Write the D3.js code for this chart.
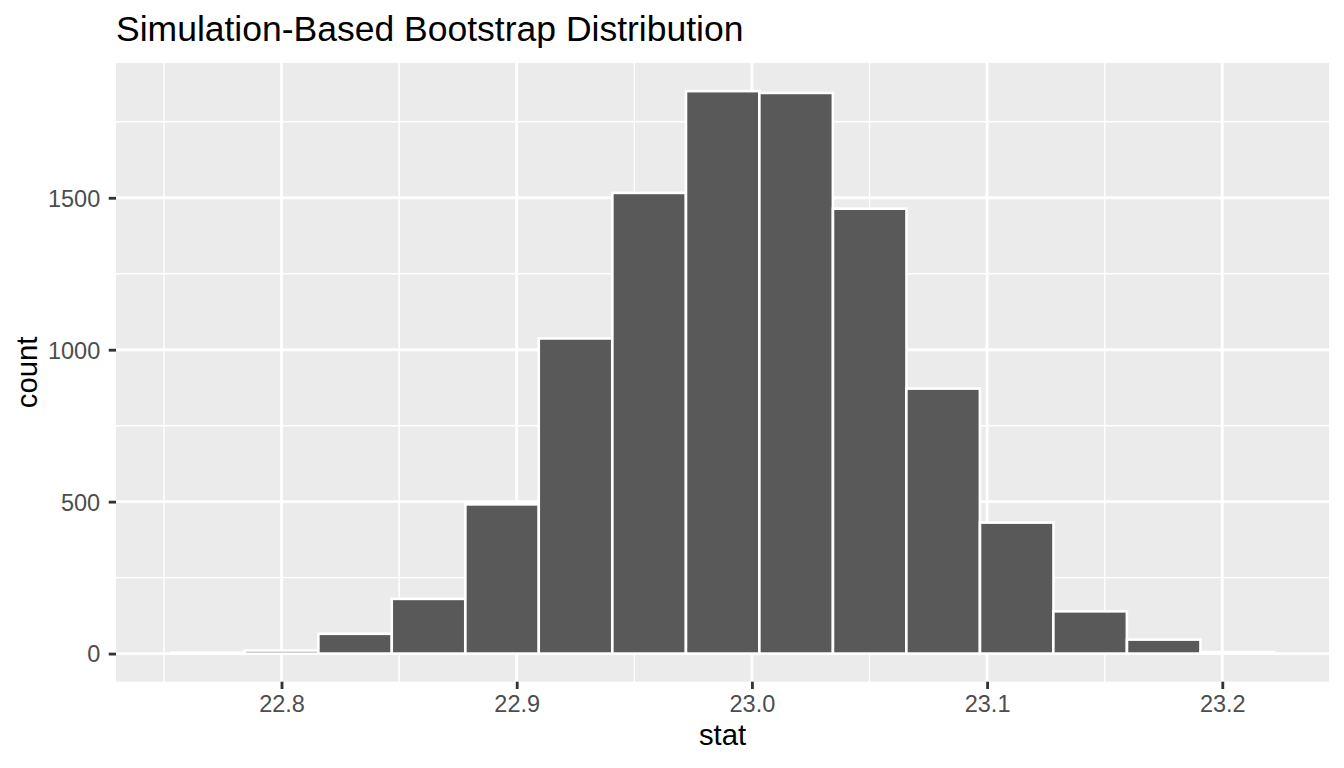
<!DOCTYPE html>
<html>
<head>
<meta charset="utf-8">
<script src="https://cdn.jsdelivr.net/npm/d3@7"></script>
<style>
  html, body { margin: 0; padding: 0; background: #ffffff; }
  svg { display: block; }
  text { font-family: "Liberation Sans", Arial, Helvetica, sans-serif; }
</style>
</head>
<body>
<svg id="chart" width="1344" height="768"></svg>
<script>
// ---- data ----
const titleText = "Simulation-Based Bootstrap Distribution";
const xLabel = "stat";
const yLabel = "count";
const binCenters = [22.7687, 22.8000, 22.8313, 22.8625, 22.8938, 22.9250, 22.9563, 22.9876,
                    23.0188, 23.0501, 23.0813, 23.1126, 23.1438, 23.1751, 23.2063];
const counts = [3, 10, 65, 180, 491, 1037, 1516, 1851, 1845, 1464, 872, 431, 139, 46, 5];
const xTicks = [22.8, 22.9, 23.0, 23.1, 23.2];
const xMinor = [22.75, 22.85, 22.95, 23.05, 23.15];
const yTicks = [0, 500, 1000, 1500];
const yMinor = [250, 750, 1250, 1750];

// ---- layout ----
const svg = d3.select("#chart");
const panel = { left: 116, top: 63, right: 1329, bottom: 681.7 };
const binWidth = (binCenters[binCenters.length - 1] - binCenters[0]) / (binCenters.length - 1);

const bins = binCenters.map((c, i) => ({ x0: c - binWidth / 2, x1: c + binWidth / 2, n: counts[i] }));
const xmin = d3.min(bins, d => d.x0), xmax = d3.max(bins, d => d.x1);
const xpad = (xmax - xmin) * 0.05;
const ymax = d3.max(counts);
const ypad = ymax * 0.05;

const x = d3.scaleLinear().domain([xmin - xpad, xmax + xpad]).range([panel.left, panel.right]);
const y = d3.scaleLinear().domain([-ypad, ymax + ypad]).range([panel.bottom, panel.top]);

// panel background
svg.append("rect")
  .attr("x", panel.left).attr("y", panel.top)
  .attr("width", panel.right - panel.left).attr("height", panel.bottom - panel.top)
  .attr("fill", "#EBEBEB");

const grid = svg.append("g");
// minor grid
grid.selectAll(".xminor").data(xMinor.filter(v => x(v) > panel.left && x(v) < panel.right)).enter()
  .append("line")
  .attr("x1", d => x(d)).attr("x2", d => x(d))
  .attr("y1", panel.top).attr("y2", panel.bottom)
  .attr("stroke", "#ffffff").attr("stroke-width", 1.42);
grid.selectAll(".yminor").data(yMinor.filter(v => y(v) > panel.top && y(v) < panel.bottom)).enter()
  .append("line")
  .attr("x1", panel.left).attr("x2", panel.right)
  .attr("y1", d => y(d)).attr("y2", d => y(d))
  .attr("stroke", "#ffffff").attr("stroke-width", 1.42);
// major grid
grid.selectAll(".xmajor").data(xTicks).enter()
  .append("line")
  .attr("x1", d => x(d)).attr("x2", d => x(d))
  .attr("y1", panel.top).attr("y2", panel.bottom)
  .attr("stroke", "#ffffff").attr("stroke-width", 2.84);
grid.selectAll(".ymajor").data(yTicks).enter()
  .append("line")
  .attr("x1", panel.left).attr("x2", panel.right)
  .attr("y1", d => y(d)).attr("y2", d => y(d))
  .attr("stroke", "#ffffff").attr("stroke-width", 2.84);

// bars
svg.append("g").selectAll("rect").data(bins).enter()
  .append("rect")
  .attr("x", d => x(d.x0))
  .attr("width", d => x(d.x1) - x(d.x0))
  .attr("y", d => y(d.n))
  .attr("height", d => y(0) - y(d.n))
  .attr("fill", "#595959")
  .attr("stroke", "#ffffff")
  .attr("stroke-width", 2.6);

// x axis
const xAxis = d3.axisBottom(x).tickValues(xTicks).tickFormat(d3.format(".1f")).tickSize(7.3).tickPadding(5);
const gx = svg.append("g").attr("transform", `translate(0,${panel.bottom})`).call(xAxis);
gx.select(".domain").remove();
gx.selectAll(".tick line").attr("stroke", "#333333").attr("stroke-width", 2.84);
gx.selectAll(".tick text")
  .attr("fill", "#4D4D4D").attr("font-size", "23.5px")
  .attr("dy", null).attr("y", 30.3);

// y axis
const yAxis = d3.axisLeft(y).tickValues(yTicks).tickFormat(d3.format("d")).tickSize(7.3).tickPadding(8.5);
const gy = svg.append("g").attr("transform", `translate(${panel.left},0)`).call(yAxis);
gy.select(".domain").remove();
gy.selectAll(".tick line").attr("stroke", "#333333").attr("stroke-width", 2.84);
gy.selectAll(".tick text")
  .attr("fill", "#4D4D4D").attr("font-size", "23.5px")
  .attr("dy", "0.357em");

// axis titles
svg.append("text")
  .attr("x", (panel.left + panel.right) / 2).attr("y", 745)
  .attr("text-anchor", "middle").attr("font-size", "29.3px").attr("fill", "#000000")
  .text(xLabel);
svg.append("text")
  .attr("transform", `translate(36.5,${(panel.top + panel.bottom) / 2}) rotate(-90)`)
  .attr("text-anchor", "middle").attr("font-size", "29.3px").attr("fill", "#000000")
  .text(yLabel);

// title
svg.append("text")
  .attr("x", panel.left).attr("y", 41)
  .attr("font-size", "35.5px").attr("fill", "#000000")
  .text(titleText);
</script>
</body>
</html>
